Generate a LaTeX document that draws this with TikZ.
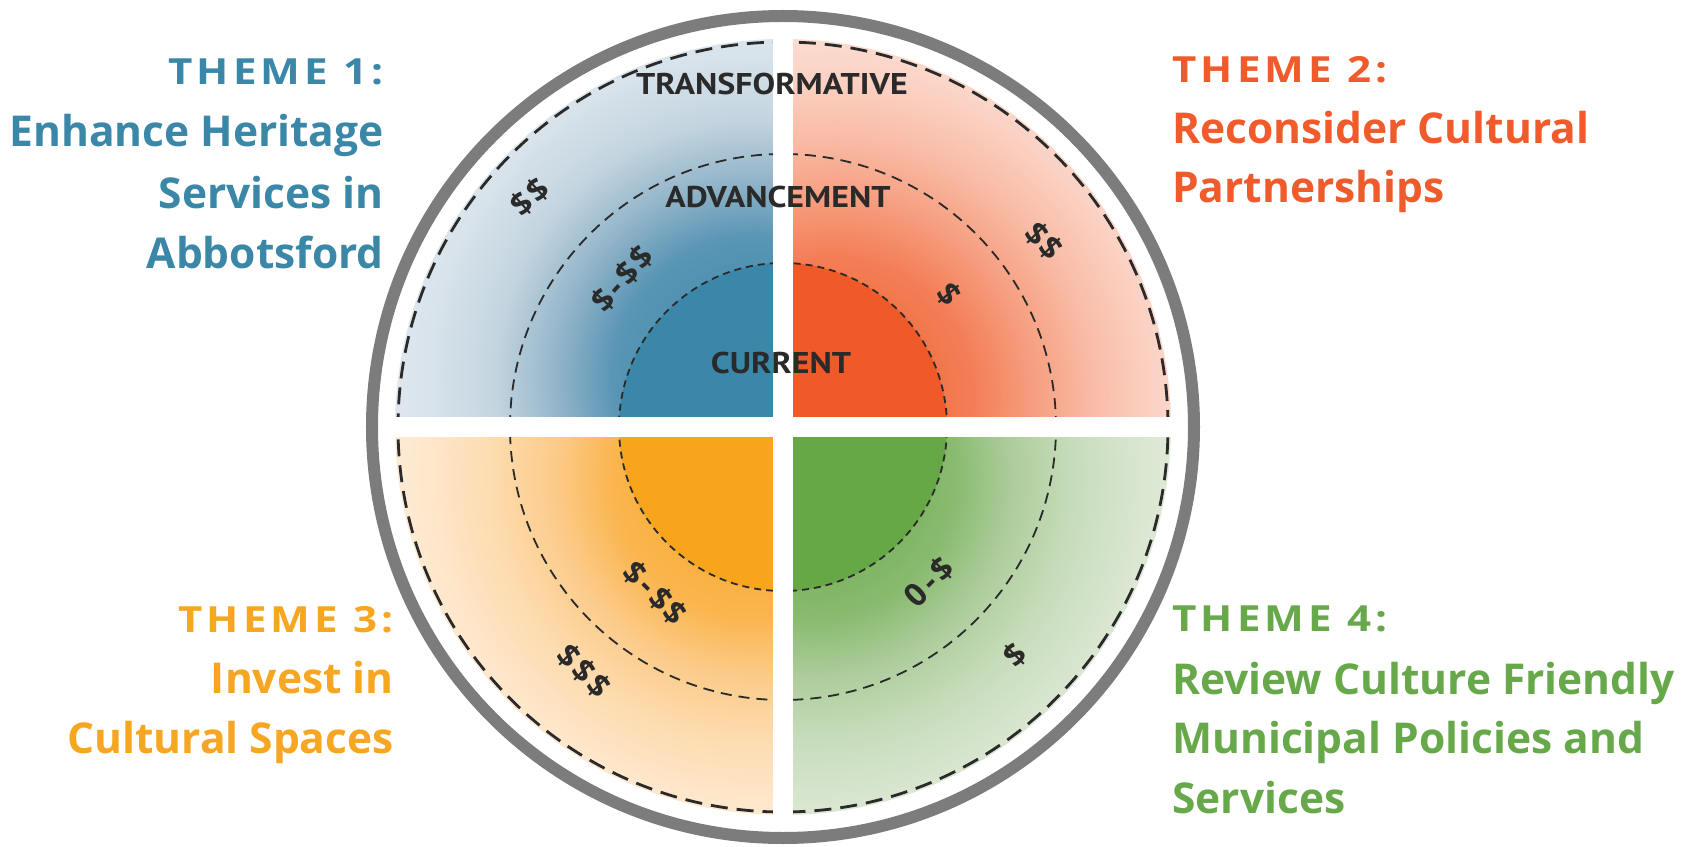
\documentclass[tikz,border=0pt]{standalone}
\usepackage{fontspec}
\setmainfont{Open Sans}
\newfontfamily\labfont{PT Sans}
\newfontfamily\headfont{Open Sans}[LetterSpace=10]
\definecolor{tA}{HTML}{3A87A8}
\definecolor{tB}{HTML}{EF5B2B}
\definecolor{tC}{HTML}{F6A620}
\definecolor{tD}{HTML}{67A84B}
\definecolor{ringgray}{HTML}{7C7C7C}
\definecolor{dk}{HTML}{2A2A2A}
\definecolor{cA}{HTML}{3B87A9}\definecolor{mA1}{HTML}{5995B4}\definecolor{mA3}{HTML}{95B6CA}\definecolor{mA2}{HTML}{C4D5E0}\definecolor{oA1}{HTML}{D7E2EA}\definecolor{oA2}{HTML}{E3EAF0}
\definecolor{cB}{HTML}{F05A28}\definecolor{mB1}{HTML}{F37E56}\definecolor{mB3}{HTML}{F69E80}\definecolor{mB2}{HTML}{F9BCA6}\definecolor{oB1}{HTML}{FBD2C4}\definecolor{oB2}{HTML}{FCE1D7}
\definecolor{cC}{HTML}{F8A51D}\definecolor{mC1}{HTML}{FAB54E}\definecolor{mC3}{HTML}{FCCB8A}\definecolor{mC2}{HTML}{FDDBAE}\definecolor{oC1}{HTML}{FEE6C9}\definecolor{oC2}{HTML}{FEEEDC}
\definecolor{cD}{HTML}{66A845}\definecolor{mD1}{HTML}{88BA6E}\definecolor{mD3}{HTML}{ADCD9C}\definecolor{mD2}{HTML}{C7DCBA}\definecolor{oD1}{HTML}{D7E5CE}\definecolor{oD2}{HTML}{E3EDDC}
\pgfdeclareradialshading{shA}{\pgfpoint{0bp}{0bp}}{color(0bp)=(cA); color(7bp)=(mA1); color(10bp)=(mA3); color(13bp)=(mA2); color(16bp)=(oA1); color(19bp)=(oA2); color(50bp)=(oA2)}
\pgfdeclareradialshading{shB}{\pgfpoint{0bp}{0bp}}{color(0bp)=(cB); color(7bp)=(mB1); color(10bp)=(mB3); color(13bp)=(mB2); color(16bp)=(oB1); color(19bp)=(oB2); color(50bp)=(oB2)}
\pgfdeclareradialshading{shC}{\pgfpoint{0bp}{0bp}}{color(0bp)=(cC); color(7bp)=(mC1); color(10bp)=(mC3); color(13bp)=(mC2); color(16bp)=(oC1); color(19bp)=(oC2); color(50bp)=(oC2)}
\pgfdeclareradialshading{shD}{\pgfpoint{0bp}{0bp}}{color(0bp)=(cD); color(7bp)=(mD1); color(10bp)=(mD3); color(13bp)=(mD2); color(16bp)=(oD1); color(19bp)=(oD2); color(50bp)=(oD2)}
\begin{document}
\begin{tikzpicture}[x=1pt,y=1pt,
  dashO/.style={draw=dk, line width=2.8pt, dash pattern=on 17pt off 9pt},
  dashM/.style={draw=dk, line width=1.8pt, dash pattern=on 11pt off 7pt},
  dashI/.style={draw=dk, line width=1.8pt, dash pattern=on 7pt off 5pt},
  lab/.style={inner sep=0pt, text=dk, font=\labfont\bfseries\fontsize{30}{30}\selectfont},
  dol/.style={inner sep=0pt, text=dk, font=\bfseries\fontsize{32}{32}\selectfont},
  head/.style={inner sep=0pt, font=\headfont\bfseries\fontsize{36}{36}\selectfont},
  body/.style={inner sep=0pt, font=\bfseries\fontsize{42.5}{42.5}\selectfont},
]
\useasboundingbox (-783,-419) rectangle (914,427);
\draw[ringgray, line width=12pt] (0,0) circle[radius=411pt];
% quadrant 1
\begin{scope}
\clip (0,0) -- (-388,0) arc[start angle=180,end angle=90,radius=388pt] -- cycle;
\shade[shading=shA] (-30,50) circle[radius=500pt];
\fill[cA] (0,0) circle[radius=164pt];
\end{scope}
% quadrant 2
\begin{scope}
\clip (0,0) -- (388,0) arc[start angle=0,end angle=90,radius=388pt] -- cycle;
\shade[shading=shB] (50,30) circle[radius=500pt];
\fill[cB] (0,0) circle[radius=164pt];
\end{scope}
% quadrant 3
\begin{scope}
\clip (0,0) -- (-388,0) arc[start angle=180,end angle=270,radius=388pt] -- cycle;
\shade[shading=shC] (-30,-50) circle[radius=500pt];
\fill[cC] (0,0) circle[radius=164pt];
\end{scope}
% quadrant 4
\begin{scope}
\clip (0,0) -- (388,0) arc[start angle=0,end angle=-90,radius=388pt] -- cycle;
\shade[shading=shD] (30,-50) circle[radius=500pt];
\fill[cD] (0,0) circle[radius=164pt];
\end{scope}
% dashed rings
\draw[dashO] (0,0) circle[radius=385pt];
\draw[dashM] (0,0) circle[radius=273pt];
\draw[dashI] (0,0) circle[radius=164pt];
% white cross
\fill[white] (-10,-400) rectangle (10,400);
\fill[white] (-400,-10) rectangle (400,10);
% level labels
\node[lab, anchor=base] (ltr) at (-11,332) {\scalebox{1.13}[1]{TRANSFORMATIVE}};
\node[lab, anchor=base] (lad) at (-5,219) {\scalebox{1.13}[1]{ADVANCEMENT}};
\node[lab, anchor=base] (lcu) at (-2,54) {\scalebox{1.13}[1]{CURRENT}};
% cost labels
\node[dol, rotate=42] (d1a) at (-253,230) {\$\kern2.5pt\$};
\node[dol, rotate=48] (d1b) at (-161,148) {\$\kern4pt-\kern4pt\$\kern2.5pt\$};
\node[dol, rotate=-45] (d2a) at (261,186) {\$\kern2.5pt\$};
\node[dol, rotate=-50] (d2b) at (166,133) {\$};
\node[dol, rotate=-45] (d3a) at (-128,-166) {\$\kern4pt-\kern4pt\$\kern2.5pt\$};
\node[dol, rotate=-45] (d3b) at (-199,-244) {\$\kern2.5pt\$\kern2.5pt\$};
\node[dol, rotate=45] (d4a) at (146,-155) {0\kern4pt-\kern4pt\$};
\node[dol, rotate=45] (d4b) at (232,-228) {\$};
% theme 1
\node[head, text=tA, anchor=base east] (h1) at (-399,342) {\scalebox{1.17}[1]{THEME 1:}};
\node[body, text=tA, anchor=base east] (b1a) at (-399,280) {Enhance Heritage};
\node[body, text=tA, anchor=base east] (b1b) at (-399,218) {Services in};
\node[body, text=tA, anchor=base east] (b1c) at (-399,158) {Abbotsford};
% theme 2
\node[head, text=tB, anchor=base west] (h2) at (389,344) {\scalebox{1.17}[1]{THEME 2:}};
\node[body, text=tB, anchor=base west] (b2a) at (389,283) {Reconsider Cultural};
\node[body, text=tB, anchor=base west] (b2b) at (389,224) {Partnerships};
% theme 3
\node[head, text=tC, anchor=base east] (h3) at (-389,-205) {\scalebox{1.17}[1]{THEME 3:}};
\node[body, text=tC, anchor=base east] (b3a) at (-389,-266) {Invest in};
\node[body, text=tC, anchor=base east] (b3b) at (-389,-326) {Cultural Spaces};
% theme 4
\node[head, text=tD, anchor=base west] (h4) at (389,-204) {\scalebox{1.17}[1]{THEME 4:}};
\node[body, text=tD, anchor=base west] (b4a) at (389,-267) {Review Culture Friendly};
\node[body, text=tD, anchor=base west] (b4b) at (389,-326) {Municipal Policies and};
\node[body, text=tD, anchor=base west] (b4c) at (389,-386) {Services};
\end{tikzpicture}
\end{document}
